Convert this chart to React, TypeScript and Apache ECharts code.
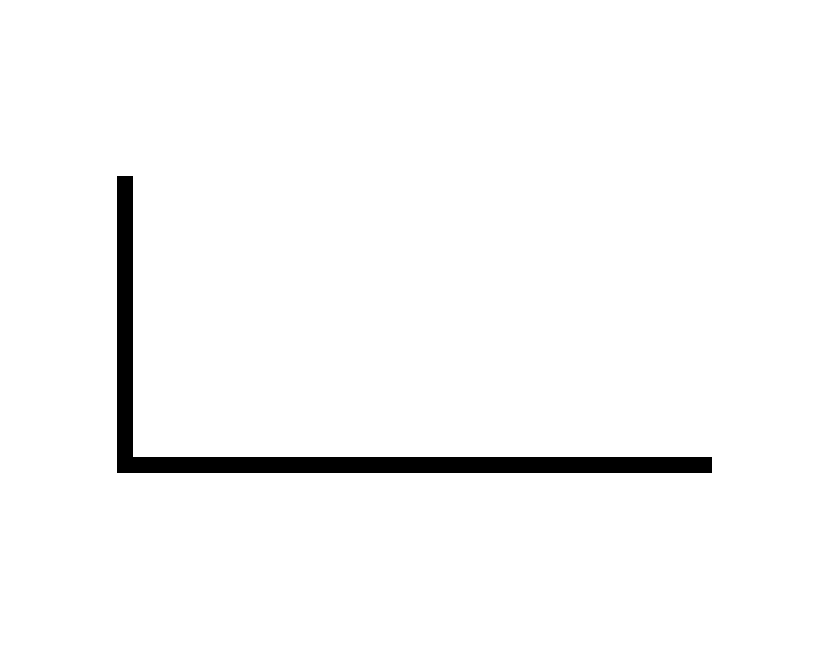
import React, { useEffect, useRef } from 'react';
import * as echarts from 'echarts';

// the reference holds no data, only the two axis lines
const categories: string[] = [];
const seriesValues: number[] = [];

const App: React.FC = () => {
  const chartRef = useRef<HTMLDivElement>(null);

  useEffect(() => {
    if (!chartRef.current) return;
    const myChart = echarts.init(chartRef.current, undefined, { renderer: 'svg' });
    const axisLine = {
      show: true,
      onZero: false,
      lineStyle: { color: '#000', width: 16, cap: 'square' as const },
    };
    const option = {
      animation: false,
      backgroundColor: '#fff',
      grid: { left: 125, right: 125, top: 184, bottom: 185.5 },
      xAxis: {
        type: 'category',
        data: categories,
        axisLine,
        axisTick: { show: false },
        axisLabel: { show: false },
        splitLine: { show: false },
      },
      yAxis: {
        type: 'value',
        min: 0,
        max: 1,
        axisLine,
        axisTick: { show: false },
        axisLabel: { show: false },
        splitLine: { show: false },
      },
      series: [{ type: 'line', data: seriesValues }],
    };
    myChart.setOption(option);
    return () => {
      myChart.dispose();
    };
  }, []);

  return (
    <div
      ref={chartRef}
      style={{ position: 'fixed', left: 0, top: 0, width: '829px', height: '650px' }}
    />
  );
};

export default App;
